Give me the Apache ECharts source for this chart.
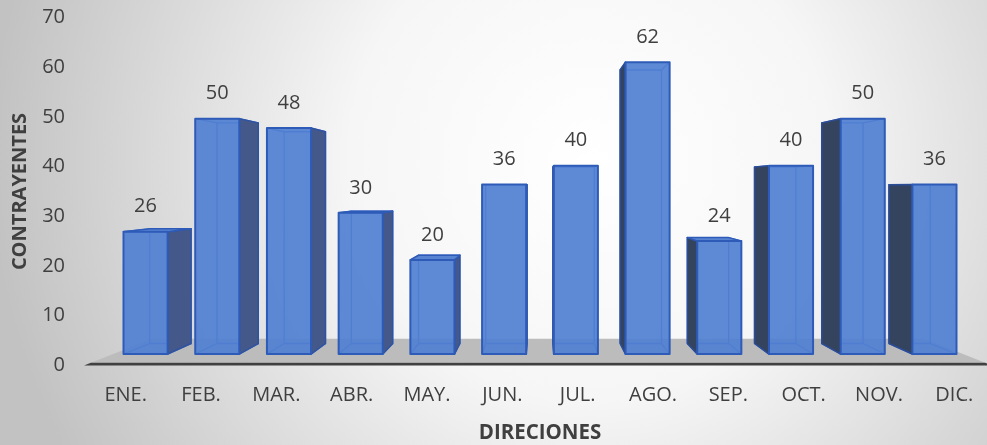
<!DOCTYPE html>
<html><head><meta charset="utf-8">
<script src="https://cdn.jsdelivr.net/npm/echarts@6/dist/echarts.min.js"></script>
<style>html,body{margin:0;padding:0;}#c{width:987px;height:445px;}</style>
</head><body><div id="c"></div>
<script>
const categories = ['ENE.','FEB.','MAR.','ABR.','MAY.','JUN.','JUL.','AGO.','SEP.','OCT.','NOV.','DIC.'];
const values = [26,50,48,30,20,36,40,62,24,40,50,36];
const yMin = 0, yMax = 70, yInterval = 10;
const xTitle = 'DIRECIONES';
const yTitle = 'CONTRAYENTES';

const FONT = '"Open Sans", sans-serif';
const TEXT = '#3f3f3f';
// perspective styling
const EYE_VALUE = 36;          // eye level (vanishing point height)
const SCALE_VALUE = 43.5;      // centre of the vertical scaling of the bar plane
const GX = 0.952, GY = 0.947, DEPTH = 0.063, BAR_RATIO = 0.615;
const FLOOR_FRONT = 0.985, FLOOR_BACK = 0.85;

function persp(api) {
  const n = categories.length;
  const a = api.coord([Math.floor((n - 1) / 2), 0])[0];
  const b = api.coord([Math.ceil((n - 1) / 2), 0])[0];
  const vx = (a + b) / 2;
  const vy = api.coord([0, EYE_VALUE])[1];
  const sy = api.coord([0, SCALE_VALUE])[1];
  const P = (p, g) => [vx + (p[0] - vx) * g, vy + (p[1] - vy) * g];
  P.front = (p) => [vx + (p[0] - vx) * GX, sy + (p[1] - sy) * GY];
  P.vx = vx; P.vy = vy;
  return P;
}

function seg(a, b, style) {
  return {type: 'line', shape: {x1: a[0], y1: a[1], x2: b[0], y2: b[1]}, style: style};
}

function renderBar(params, api) {
  const P = persp(api);
  const i = api.value(0), v = api.value(1);
  const base = api.coord([i, 0]), top = api.coord([i, v]);
  const w = api.size([1, 0])[0] * BAR_RATIO;
  const xl = base[0] - w / 2, xr = base[0] + w / 2;
  const f = (x, y) => P.front([x, y]);
  const k = 1 - DEPTH;
  const b = (x, y) => P(f(x, y), k);
  const FLb = f(xl, base[1]), FRb = f(xr, base[1]), FRt = f(xr, top[1]), FLt = f(xl, top[1]);
  const BLb = b(xl, base[1]), BRb = b(xr, base[1]), BRt = b(xr, top[1]), BLt = b(xl, top[1]);
  const ch = [];
  const edge = {stroke: '#3f6dcc', lineWidth: 1.3, fill: null};
  ch.push({type: 'polyline', shape: {points: [BLb, BRb, BRt, BLt, BLb]}, style: edge});
  ch.push(seg(FLb, BLb, edge), seg(FRb, BRb, edge), seg(FLt, BLt, edge), seg(FRt, BRt, edge));
  const cx = (FLb[0] + FRb[0]) / 2;
  if (cx < P.vx - 1) {
    ch.push({type: 'polygon', shape: {points: [FRt, BRt, BRb, FRb]},
      style: {fill: '#44598a', stroke: '#2f53a3', lineWidth: 1.5, lineJoin: 'round'}});
  } else if (cx > P.vx + 1) {
    ch.push({type: 'polygon', shape: {points: [FLt, BLt, BLb, FLb]},
      style: {fill: '#34445f', stroke: '#2b4c97', lineWidth: 1.5, lineJoin: 'round'}});
  }
  if (FLt[1] > P.vy) {
    ch.push({type: 'polygon', shape: {points: [FLt, FRt, BRt, BLt]},
      style: {fill: '#5783d0', stroke: '#2e5bb8', lineWidth: 1.5, lineJoin: 'round'}});
  }
  ch.push({type: 'polygon', shape: {points: [FLb, FRb, FRt, FLt]},
    style: {fill: 'rgba(80,127,209,0.92)', stroke: '#2e5bb8', lineWidth: 2, lineJoin: 'round'}});
  ch.push({type: 'text', x: (FLt[0] + FRt[0]) / 2, y: FLt[1] - 25,
    style: {text: String(v), fill: TEXT, fontSize: 20, fontFamily: FONT, align: 'center', verticalAlign: 'middle'}});
  return {type: 'group', children: ch};
}

function renderFloor(params, api) {
  const P = persp(api);
  const n = categories.length;
  const band = api.size([1, 0])[0];
  const y0 = api.coord([0, 0])[1];
  const xl = api.coord([0, 0])[0] - band / 2 - 4;
  const xr = api.coord([n - 1, 0])[0] + band / 2;
  const fl = P([xl, y0], FLOOR_FRONT), fr = P([xr, y0], FLOOR_FRONT);
  const bl = P([xl, y0], FLOOR_BACK), br = P([xr, y0], FLOOR_BACK);
  return {type: 'group', children: [
    {type: 'polygon', shape: {points: [fl, fr, br, bl]}, style: {fill: '#bcbcbc'}},
    {type: 'polygon', shape: {points: [[xl, y0], [xr, y0], fr, fl]}, style: {fill: '#404040'}}
  ]};
}

const chart = echarts.init(document.getElementById('c'), null, {renderer: 'canvas'});
chart.setOption({
  animation: false,
  backgroundColor: {
    type: 'radial', x: 590, y: 160, r: 600, global: true,
    colorStops: [{offset: 0, color: '#ffffff'}, {offset: 0.4, color: '#f6f6f6'}, {offset: 1, color: '#c2c2c2'}]
  },
  grid: {left: 88, right: -5, top: 17.5, bottom: 79.5, containLabel: false, outerBoundsMode: 'none'},
  xAxis: {
    type: 'category', data: categories,
    axisLine: {show: false}, axisTick: {show: false},
    axisLabel: {color: TEXT, fontSize: 20, fontFamily: FONT, margin: 20, interval: 0},
    name: xTitle, nameLocation: 'middle', nameGap: 57,
    nameTextStyle: {color: TEXT, fontSize: 20.5, fontWeight: 'bold', fontFamily: FONT}
  },
  yAxis: {
    type: 'value', min: yMin, max: yMax, interval: yInterval,
    axisLine: {show: false}, axisTick: {show: false}, splitLine: {show: false},
    axisLabel: {color: TEXT, fontSize: 20, fontFamily: FONT, margin: 23},
    name: yTitle, nameLocation: 'middle', nameGap: 58, nameRotate: 90,
    nameTextStyle: {color: TEXT, fontSize: 20, fontWeight: 'bold', fontFamily: FONT}
  },
  series: [
    {type: 'custom', renderItem: renderFloor, data: [[0, 0]], encode: {x: 0, y: 1}, clip: false, silent: true, z: 1},
    {type: 'custom', renderItem: renderBar, data: values.map((v, i) => [i, v]), encode: {x: 0, y: 1}, clip: false, z: 2}
  ]
});
</script>
</body></html>
